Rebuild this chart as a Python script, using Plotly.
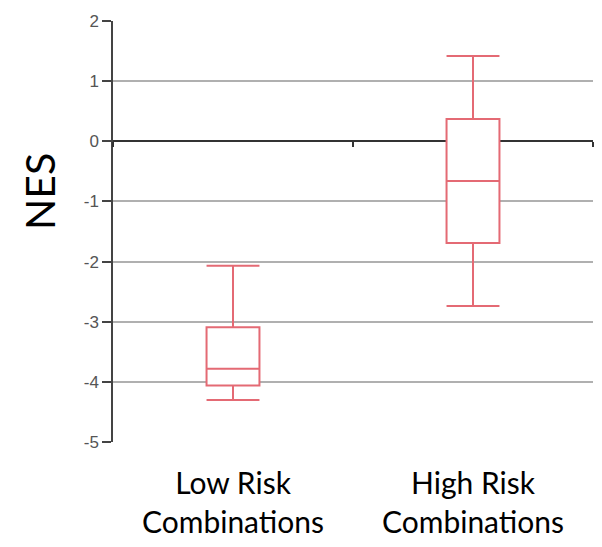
import plotly.graph_objects as go

categories = ["Low Risk<br>Combinations", "High Risk<br>Combinations"]
lower_whisker = [-4.30, -2.74]
q1 = [-4.06, -1.69]
median = [-3.78, -0.66]
q3 = [-3.09, 0.37]
upper_whisker = [-2.07, 1.42]
y_ticks = [-5, -4, -3, -2, -1, 0, 1, 2]
y_tick_text = [str(v) for v in y_ticks]
y_title = "NES"

fig = go.Figure()
fig.add_trace(go.Box(
    x=categories,
    lowerfence=lower_whisker,
    q1=q1,
    median=median,
    q3=q3,
    upperfence=upper_whisker,
    line=dict(color="#e46a74", width=2),
    fillcolor="white",
    whiskerwidth=1,
    boxpoints=False,
    showlegend=False,
))
# invisible helper trace for the zero-crossing axis ticks
fig.add_trace(go.Scatter(
    x=categories, y=[0, 0], xaxis="x2", mode="none",
    showlegend=False, hoverinfo="skip",
))

fig.update_layout(
    width=602, height=547,
    margin=dict(l=105, r=17, t=13, b=113, autoexpand=False),
    paper_bgcolor="white", plot_bgcolor="white",
    boxgap=0.685,
    xaxis=dict(
        type="category", categoryarray=categories, range=[-0.5, 1.5],
        showline=False, showgrid=False, ticks="", zeroline=False,
        tickfont=dict(family="Lato", size=30, color="black"),
        ticklabelstandoff=21, automargin=False,
    ),
    xaxis2=dict(
        type="category", categoryarray=categories, range=[-0.5, 1.5],
        overlaying="x", anchor="free", position=5 / 7,
        showline=False, showgrid=False, zeroline=False,
        ticks="outside", ticklen=5, tickwidth=1.5, tickcolor="#333",
        tickson="boundaries", showticklabels=False, automargin=False,
    ),
    yaxis=dict(
        range=[-5, 2], tickvals=y_ticks, ticktext=y_tick_text,
        showline=True, linecolor="#444", linewidth=1.5,
        ticks="outside", ticklen=9, tickwidth=1.5, tickcolor="#444",
        showgrid=True, gridcolor="#b0b0b0", gridwidth=1.5,
        zeroline=True, zerolinecolor="#333", zerolinewidth=1.5,
        tickfont=dict(family="Liberation Sans", size=17, color="#555"),
        automargin=False,
    ),
    annotations=[dict(
        text=y_title, xref="paper", yref="paper", x=-0.152, y=0.594,
        xanchor="center", yanchor="middle", textangle=-90, showarrow=False,
        font=dict(family="Lato", size=41, color="black"),
    )],
)

fig.write_html("out.html")
